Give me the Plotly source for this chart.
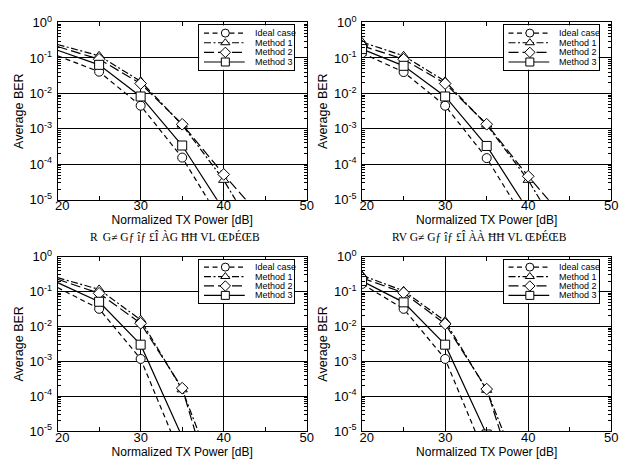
import plotly.graph_objects as go

# ---------------- data ----------------
X_POWER = [20, 25, 30, 35, 40, 45]
SERIES_NAMES = ["Ideal case", "Method 1", "Method 2", "Method 3"]

# (a) top-left
TL_IDEAL = [0.115, 0.041, 0.0045, 1.55e-4, 1.9e-6, None]
TL_M1 = [0.24, 0.115, 0.022, 1.3e-3, 3.6e-5, 4e-7]
TL_M2 = [0.21, 0.092, 0.019, 1.35e-3, 5.2e-5, 2.4e-6]
TL_M3 = [0.165, 0.064, 0.0082, 3.4e-4, 5.1e-6, None]

# (b) top-right
TR_IDEAL = [0.137, 0.040, 0.0045, 1.5e-4, 1.9e-6, None]
TR_M1 = [0.28, 0.115, 0.022, 1.3e-3, 3.6e-5, 4e-7]
TR_M2 = [0.22, 0.092, 0.019, 1.35e-3, 4.6e-5, 2e-6]
TR_M3 = [0.178, 0.060, 0.0082, 3.3e-4, 5e-6, None]

# (c) bottom-left
BL_IDEAL = [0.13, 0.032, 1.17e-3, 1.6e-6, None, None]
BL_M1 = [0.25, 0.115, 0.0155, 1.55e-4, 1.2e-7, None]
BL_M2 = [0.225, 0.089, 0.0123, 1.7e-4, 1.7e-8, None]
BL_M3 = [0.18, 0.051, 3.0e-3, 6.8e-6, None, None]

# (d) bottom-right
BR_IDEAL = [0.165, 0.032, 1.17e-3, 1.6e-6, None, None]
BR_M1 = [0.29, 0.105, 0.0143, 1.5e-4, 1.5e-7, None]
BR_M2 = [0.245, 0.092, 0.0118, 1.6e-4, 2.8e-8, None]
BR_M3 = [0.20, 0.049, 3.0e-3, 8e-6, None, None]

# first index that carries a visible marker in each panel
MARKER_START = [1, 0, 1, 0]

X_TICKS = [20, 30, 40, 50]
X_TICK_TEXT = ["\u2002\u200920", "30", "40", "50"]
Y_TICKS = [1e-5, 1e-4, 1e-3, 1e-2, 1e-1, 1]
Y_TICK_TEXT = ["10<sup>-5</sup>", "10<sup>-4</sup>", "10<sup>-3</sup>",
               "10<sup>-2</sup>", "10<sup>-1</sup>", "10<sup>0</sup>"]
X_TITLE = "Normalized TX Power [dB]"
Y_TITLE = "Average BER"
CAPTIONS = ["R\u2009 G\u2260 G\u0192 \u00ee\u0192 \u00a3\u00ce \u00c0G \u0126\u0126 VL \u0152\u00de\u00c9\u0152B",
            "RV G\u2260 G\u0192 \u00ee\u0192 \u00a3\u00ce \u00c0\u00c0 \u0126\u0126 VL \u0152\u00de\u00c9\u0152B"]

PANELS = [
    [TL_IDEAL, TL_M1, TL_M2, TL_M3],
    [TR_IDEAL, TR_M1, TR_M2, TR_M3],
    [BL_IDEAL, BL_M1, BL_M2, BL_M3],
    [BR_IDEAL, BR_M1, BR_M2, BR_M3],
]

# ---------------- styles ----------------
W, H = 628, 468
DASHES = ["5px,3.5px", "7px,2.5px,2px,2.5px", "10px,4px", "solid"]
SYMBOLS = ["circle", "triangle-up", "diamond", "square"]
FONT = "Liberation Sans, Arial, sans-serif"

# plot areas in pixels (left, right, top, bottom)
AREAS = [(47, 304, 14, 198), (361, 618, 14, 198),
         (47, 304, 257, 438), (361, 618, 257, 438)]
# legend boxes in pixels
LEG_BOXES = [(193, 291, 17, 63), (507, 605, 17, 63),
             (193, 291, 260, 305), (507, 605, 260, 305)]


def xdom(l, r):
    return [l / W, r / W]


def ydom(t, b):
    return [1 - b / H, 1 - t / H]


fig = go.Figure()
layout = dict(
    width=W, height=H, margin=dict(l=0, r=0, t=0, b=0),
    paper_bgcolor="white", plot_bgcolor="white",
    showlegend=False, font=dict(family=FONT, color="black"),
    annotations=[],
)

for p, series in enumerate(PANELS):
    k = p + 1
    xa, ya = ("x" if k == 1 else f"x{k}"), ("y" if k == 1 else f"y{k}")
    l, r, t, b = AREAS[p]
    for s, vals in enumerate(series):
        fig.add_trace(go.Scatter(
            x=X_POWER, y=vals, mode="lines", xaxis=xa, yaxis=ya,
            line=dict(color="black", width=1.2, dash=DASHES[s]),
            connectgaps=False, hoverinfo="skip"))
    for s, vals in enumerate(series):
        st = MARKER_START[p]
        fig.add_trace(go.Scatter(
            x=X_POWER[st:], y=vals[st:], mode="markers", xaxis=xa, yaxis=ya,
            marker=dict(symbol=SYMBOLS[s], size=9, color="white",
                        line=dict(color="black", width=1)),
            hoverinfo="skip"))
    common = dict(showline=True, linecolor="black", linewidth=1, mirror="ticks",
                  ticks="inside", ticklen=5, tickcolor="black", tickwidth=1,
                  showgrid=True, gridcolor="black", gridwidth=1, zeroline=False,
                  tickfont=dict(family=FONT, size=13, color="black"))
    layout[f"xaxis{k}"] = dict(
        common, domain=xdom(l, r), anchor=ya, range=[20, 50],
        tickmode="array", tickvals=X_TICKS, ticktext=X_TICK_TEXT, ticklabelstandoff=-6,
        minor=dict(tick0=20, dtick=5, ticks="inside", ticklen=4,
                   tickcolor="black", tickwidth=1, showgrid=False),
        title=dict(text=X_TITLE, font=dict(family=FONT, size=12), standoff=0))
    layout[f"yaxis{k}"] = dict(
        common, domain=ydom(t, b), anchor=xa, type="log", range=[-5, 0],
        tickmode="array", tickvals=Y_TICKS, ticktext=Y_TICK_TEXT, ticklabelstandoff=2,
        minor=dict(dtick="D1", ticks="inside", ticklen=3,
                   tickcolor="black", tickwidth=1, showgrid=False),
        title=dict(text=Y_TITLE, font=dict(family=FONT, size=12.5), standoff=3))

    # legend inset
    lk = k + 4
    lxa, lya = f"x{lk}", f"y{lk}"
    ll, lr, lt, lb = LEG_BOXES[p]
    box = dict(showline=True, linecolor="black", linewidth=1, mirror=True,
               showgrid=False, zeroline=False, showticklabels=False, ticks="")
    layout[f"xaxis{lk}"] = dict(box, domain=xdom(ll, lr), anchor=lya,
                                range=[0, lr - ll], fixedrange=True)
    layout[f"yaxis{lk}"] = dict(box, domain=ydom(lt, lb), anchor=lxa,
                                range=[len(SERIES_NAMES) - 0.2, -0.8], fixedrange=True)
    for s, name in enumerate(SERIES_NAMES):
        fig.add_trace(go.Scatter(
            x=[5, 47], y=[s, s], mode="lines", xaxis=lxa, yaxis=lya,
            line=dict(color="black", width=1.2, dash=DASHES[s]), hoverinfo="skip"))
        fig.add_trace(go.Scatter(
            x=[27], y=[s], mode="markers", xaxis=lxa, yaxis=lya,
            marker=dict(symbol=SYMBOLS[s], size=8, color="white",
                        line=dict(color="black", width=1)), hoverinfo="skip"))
        layout["annotations"].append(dict(
            xref=lxa, yref=lya, x=55, y=s, text=name, showarrow=False,
            xanchor="left", yanchor="middle",
            font=dict(family=FONT, size=9, color="black")))

# captions under the top panels
for c, cap in enumerate(CAPTIONS):
    l, r, t, b = AREAS[c]
    layout["annotations"].append(dict(
        xref="paper", yref="paper", x=(l + r) / 2 / W - 7 / W, y=1 - 237 / H,
        text=cap, showarrow=False, xanchor="center", yanchor="middle",
        font=dict(family="Liberation Serif, serif", size=11.5, color="black")))

fig.update_layout(**layout)
fig.write_html("out.html")
